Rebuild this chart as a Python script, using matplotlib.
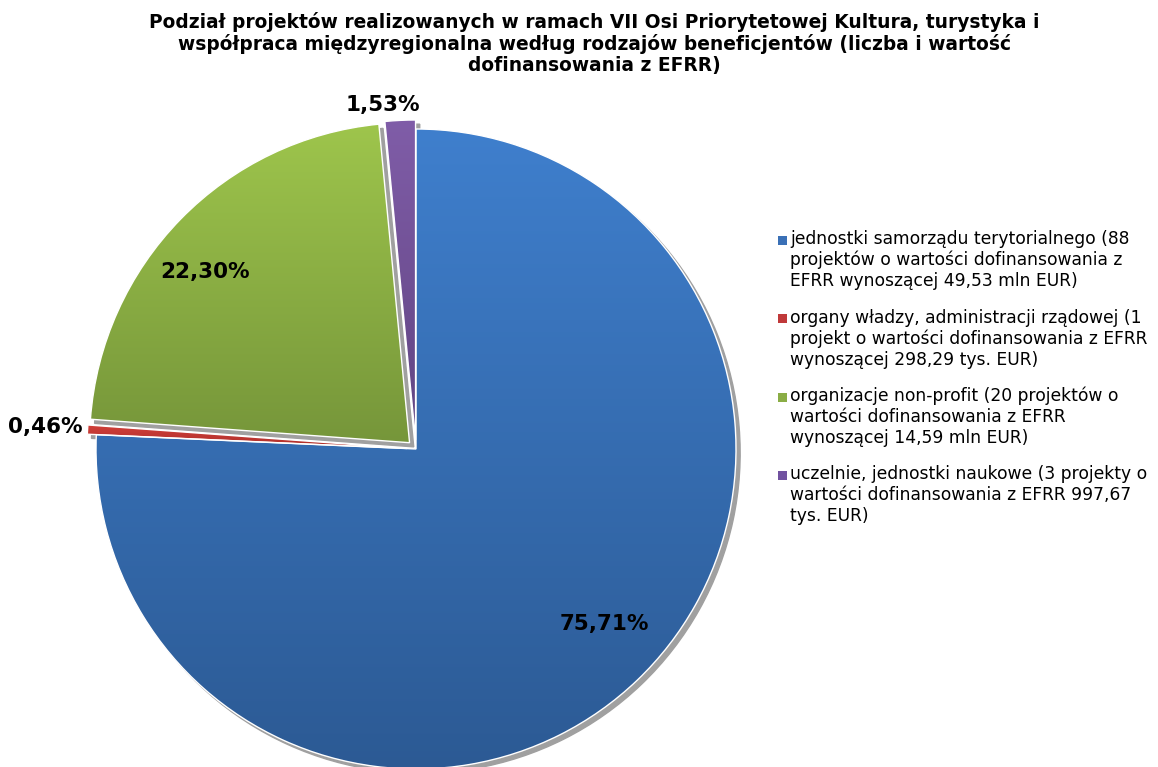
import numpy as np
import matplotlib
matplotlib.use("Agg")
import matplotlib.pyplot as plt
from matplotlib.patches import Rectangle
from matplotlib.colors import to_rgb

# ---- data ----
categories = [
    "jednostki samorządu terytorialnego (88\nprojektów o wartości dofinansowania z\nEFRR wynoszącej 49,53 mln EUR)",
    "organy władzy, administracji rządowej (1\nprojekt o wartości dofinansowania z EFRR\nwynoszącej 298,29 tys. EUR)",
    "organizacje non-profit (20 projektów o\nwartości dofinansowania z EFRR\nwynoszącej 14,59 mln EUR)",
    "uczelnie, jednostki naukowe (3 projekty o\nwartości dofinansowania z EFRR 997,67\ntys. EUR)",
]
shares = [75.71, 0.46, 22.30, 1.53]
title = ("Podział projektów realizowanych w ramach VII Osi Priorytetowej Kultura, turystyka i\n"
         "współpraca międzyregionalna według rodzajów beneficjentów (liczba i wartość\n"
         "dofinansowania z EFRR)")

# ---- styles ----
top_colors = ["#3f7fcd", "#d2403a", "#9ec54c", "#805da8"]
bot_colors = ["#2c5a94", "#ac2e2a", "#76963a", "#604482"]
mid_colors = ["#3a70b6", "#c0393a", "#8aad45", "#7152a0"]

W, H = 1158, 767
fig = plt.figure(figsize=(W / 100, H / 100), dpi=100)
ax = fig.add_axes([0, 0, 1, 1])

cx, cy, R = 416, H - 449, 320
wedges, _ = ax.pie(
    shares, colors=mid_colors, startangle=90, counterclock=False,
    radius=R, center=(cx, cy), explode=[0, 9, 9, 9],
    shadow={'ox': 3, 'oy': -3, 'facecolor': '#a0a0a0', 'edgecolor': '#a0a0a0',
            'alpha': 1.0},
    wedgeprops=dict(edgecolor='white', linewidth=1.0),
)

for w, tc, bc in zip(wedges, top_colors, bot_colors):
    ext = w.get_path().get_extents()
    n = 256
    t = np.linspace(0, 1, n)[:, None]
    grad = (1 - t) * np.array(to_rgb(bc)) + t * np.array(to_rgb(tc))
    img = ax.imshow(grad[:, None, :], extent=[ext.x0, ext.x1, ext.y0, ext.y1],
                    origin='lower', aspect='auto', zorder=2, interpolation='bilinear')
    img.set_clip_path(w)
    w.set_facecolor('none')
    w.set_zorder(3)

# percentage labels
label_pos = [(604, 624), (45, 427), (205, 272), (383, 105)]
for v, (lx, ly) in zip(shares, label_pos):
    ax.text(lx, H - ly, f"{v:.2f}%".replace('.', ','), ha='center', va='center',
            fontsize=15.5, fontweight='bold', color='black', zorder=5,
            family='DejaVu Sans')

ax.set_xlim(0, W)
ax.set_ylim(0, H)
ax.set_aspect('auto')
ax.axis('off')

# title
fig.text(594 / W, 1 - 12 / H, title, ha='center', va='top', fontsize=13.4,
         fontweight='bold', linespacing=1.12)

# legend
y0 = 240
gap = 78.5
for i, (lab, c) in enumerate(zip(categories, mid_colors)):
    yc = y0 + i * gap
    fig.patches.append(Rectangle(((778) / W, 1 - (yc + 4.5) / H), 9 / W, 9 / H,
                                 transform=fig.transFigure, facecolor=c,
                                 edgecolor='none'))
    fig.text(790 / W, 1 - (yc - 10) / H, lab, ha='left', va='top', fontsize=12.3,
             color='black', linespacing=1.2)

fig.savefig("out.png", dpi=100)
